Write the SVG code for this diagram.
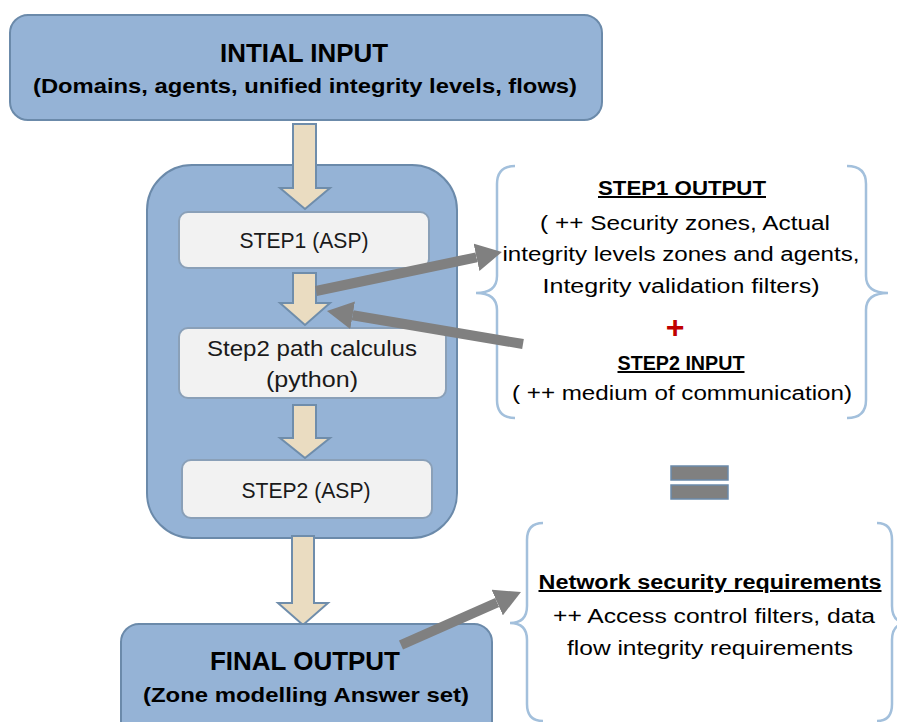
<svg xmlns="http://www.w3.org/2000/svg" width="897" height="722" viewBox="0 0 897 722">
  <style>
    .main { fill: #95b3d6; stroke: #6b8aaa; stroke-width: 2; }
    .step { fill: #f2f2f2; stroke: #8aa0b8; stroke-width: 2; }
    .tan { fill: #eadcc1; stroke: #6f8dab; stroke-width: 2; }
    .brace { fill: none; stroke: #a3c0dc; stroke-width: 2.5; }
    .conn { stroke: #808080; stroke-width: 10; fill: none; }
    .t { font-family: "Liberation Sans", Arial, sans-serif; fill: #000; }
    .hb { font-weight: bold; font-size: 26px; }
    .hs { font-weight: bold; font-size: 21px; }
    .st { font-size: 22px; fill: #1a1a1a; }
    .rt { font-size: 20px; }
    .rb { font-size: 20px; font-weight: bold; text-decoration: underline; }
  </style>
  <defs>
    <marker id="head" markerUnits="userSpaceOnUse" viewBox="0 -14 26 28" markerWidth="26" markerHeight="28" refX="0" refY="0" orient="auto">
      <path d="M0,-14 L26,0 L0,14 z" fill="#808080"/>
    </marker>
  </defs>

  <g id="initial-input">
    <rect class="main" x="10" y="15" width="592" height="105" rx="18"/>
    <text class="t hb" x="304" y="62" text-anchor="middle" textLength="168" lengthAdjust="spacingAndGlyphs">INTIAL INPUT</text>
    <text class="t hs" x="305" y="93" text-anchor="middle" textLength="544" lengthAdjust="spacingAndGlyphs">(Domains, agents, unified integrity levels, flows)</text>
  </g>

  <g id="process">
    <rect class="main" x="147" y="165" width="310" height="373" rx="45"/>
  </g>

  <g id="flow-arrows">
    <polygon class="tan" points="293,124 316,124 316,188 330,188 305,209 280,188 293,188"/>
    <polygon class="tan" points="293,273 316,273 316,303 330,303 305,325 280,303 293,303"/>
    <polygon class="tan" points="293,405 316,405 316,438 330,438 305,458 280,438 293,438"/>
    <polygon class="tan" points="292,536 314,536 314,603 328,603 303,625 278,603 292,603"/>
  </g>

  <g id="step1">
    <rect class="step" x="179" y="212" width="250" height="56" rx="9"/>
    <text class="t st" x="304" y="248" text-anchor="middle" textLength="129" lengthAdjust="spacingAndGlyphs">STEP1 (ASP)</text>
  </g>

  <g id="step2-path">
    <rect class="step" x="179" y="328" width="267" height="70" rx="9"/>
    <text class="t st" x="312" y="356" text-anchor="middle" textLength="210" lengthAdjust="spacingAndGlyphs">Step2 path calculus</text>
    <text class="t st" x="312" y="387" text-anchor="middle" textLength="92" lengthAdjust="spacingAndGlyphs">(python)</text>
  </g>

  <g id="step2">
    <rect class="step" x="182" y="460" width="250" height="58" rx="9"/>
    <text class="t st" x="306" y="498" text-anchor="middle" textLength="129" lengthAdjust="spacingAndGlyphs">STEP2 (ASP)</text>
  </g>

  <g id="final-output">
    <rect class="main" x="121" y="624" width="371" height="115" rx="18"/>
    <text class="t hb" x="305" y="670" text-anchor="middle" textLength="190" lengthAdjust="spacingAndGlyphs">FINAL OUTPUT</text>
    <text class="t hs" x="306" y="702" text-anchor="middle" textLength="326" lengthAdjust="spacingAndGlyphs">(Zone modelling Answer set)</text>
  </g>

  <g id="step-io">
    <path class="brace" d="M515,166 Q497,166 497,184 L497,276 Q497,293 476,293 Q497,293 497,310 L497,400 Q497,418 515,418"/>
    <path class="brace" d="M847,166 Q866,166 866,184 L866,276 Q866,293 888,293 Q866,293 866,310 L866,400 Q866,418 847,418"/>
    <text class="t rb" x="682" y="195" text-anchor="middle" textLength="168" lengthAdjust="spacingAndGlyphs">STEP1 OUTPUT</text>
    <text class="t rt" x="685" y="230" text-anchor="middle" textLength="290" lengthAdjust="spacingAndGlyphs">( ++ Security zones, Actual</text>
    <text class="t rt" x="681" y="261" text-anchor="middle" textLength="357" lengthAdjust="spacingAndGlyphs">integrity levels zones and agents,</text>
    <text class="t rt" x="681" y="293" text-anchor="middle" textLength="277" lengthAdjust="spacingAndGlyphs">Integrity validation filters)</text>
    <text class="t" x="675" y="338" text-anchor="middle" style="font-size:32px;font-weight:bold;fill:#c00000">+</text>
    <text class="t rb" x="681" y="370" text-anchor="middle" textLength="127" lengthAdjust="spacingAndGlyphs">STEP2 INPUT</text>
    <text class="t rt" x="682" y="400" text-anchor="middle" textLength="340" lengthAdjust="spacingAndGlyphs">( ++ medium of communication)</text>
  </g>

  <g id="equals">
    <rect x="671" y="466" width="57" height="14" fill="#808080" stroke="#6b8aaa" stroke-width="1.5"/>
    <rect x="671" y="485" width="57" height="14" fill="#808080" stroke="#6b8aaa" stroke-width="1.5"/>
  </g>

  <g id="network-requirements">
    <path class="brace" d="M543,523 Q527,523 527,540 L527,606 Q527,623 510,623 Q527,623 527,640 L527,704 Q527,721 543,721"/>
    <path class="brace" d="M877,523 Q892,523 892,540 L892,606 Q892,623 908,623 Q892,623 892,640 L892,704 Q892,721 877,721"/>
    <text class="t rb" x="710" y="589" text-anchor="middle" textLength="343" lengthAdjust="spacingAndGlyphs">Network security requirements</text>
    <text class="t rt" x="714" y="623" text-anchor="middle" textLength="322" lengthAdjust="spacingAndGlyphs">++ Access control filters, data</text>
    <text class="t rt" x="710" y="655" text-anchor="middle" textLength="286" lengthAdjust="spacingAndGlyphs">flow integrity requirements</text>
  </g>

  <g id="connectors">
    <line class="conn" x1="316" y1="291" x2="476.5" y2="257.3" marker-end="url(#head)"/>
    <line class="conn" x1="523" y1="344" x2="352.6" y2="315.3" marker-end="url(#head)"/>
    <line class="conn" x1="401" y1="645" x2="497.2" y2="602.5" marker-end="url(#head)"/>
  </g>
</svg>
